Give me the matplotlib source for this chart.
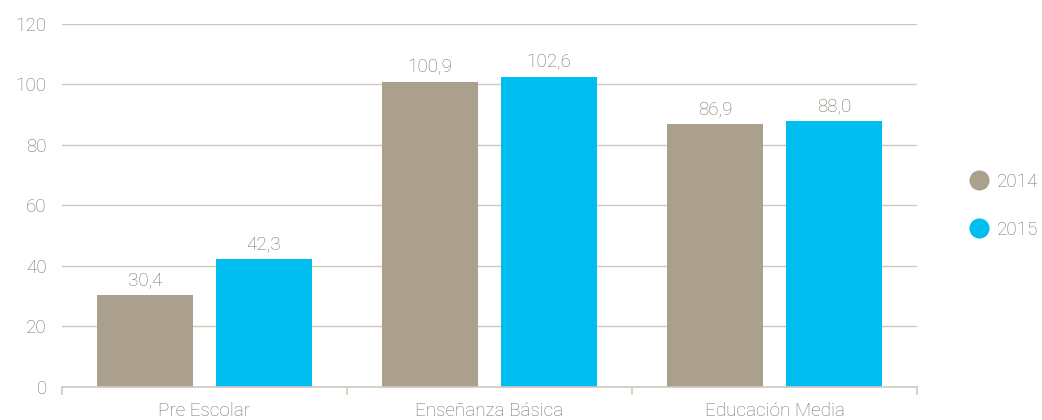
import matplotlib
matplotlib.use('Agg')
import matplotlib.pyplot as plt
from matplotlib.lines import Line2D
import numpy as np

# data
categories = ["Pre Escolar", "Enseñanza Básica", "Educación Media"]
years = ["2014", "2015"]
values_2014 = [30.4, 100.9, 86.9]
values_2015 = [42.3, 102.6, 88.0]
y_ticks = [0, 20, 40, 60, 80, 100, 120]

GREY = "#ab9f8e"
CYAN = "#00bff0"
TEXT = "#7b6f61"
GRID = "#cfc8bd"
FS = 13.6

plt.rcParams['font.family'] = ['Roboto', 'DejaVu Sans']
plt.rcParams['font.weight'] = 'light'

fig = plt.figure(figsize=(10.42, 4.2), dpi=100)
ax = fig.add_axes([0.0595, 0.0786, 0.8205, 0.8643])

x = np.arange(len(categories))
offset = 0.209
width = 0.337
b1 = ax.bar(x - offset, values_2014, width, color=GREY, zorder=3)
b2 = ax.bar(x + offset, values_2015, width, color=CYAN, zorder=3)

for bars, vals in ((b1, values_2014), (b2, values_2015)):
    for rect, v in zip(bars, vals):
        ax.annotate(f"{v:.1f}".replace(".", ","),
                    (rect.get_x() + rect.get_width() / 2, rect.get_height()),
                    xytext=(0, 7), textcoords="offset points",
                    ha="center", va="baseline", fontsize=FS, color=TEXT)

ax.set_xlim(-0.5, len(categories) - 0.5)
ax.set_ylim(0, 120)
ax.set_yticks(y_ticks)
ax.set_yticklabels([str(t) for t in y_ticks], fontsize=FS, color=TEXT)
ax.tick_params(axis='y', length=0, pad=11)

# category labels without marks, boundary ticks without labels
ax.set_xticks(x)
ax.set_xticklabels(categories, fontsize=FS, color=TEXT)
ax.tick_params(axis='x', which='major', length=0, pad=11)
ax.set_xticks(np.arange(len(categories) + 1) - 0.5, minor=True)
ax.tick_params(axis='x', which='minor', length=6, width=1.2, color=GRID)

for t in y_ticks[1:]:
    ax.axhline(t, color=GRID, linewidth=1, zorder=1)

for side in ('top', 'right', 'left'):
    ax.spines[side].set_visible(False)
ax.spines['bottom'].set_color(GRID)
ax.spines['bottom'].set_linewidth(1.2)
ax.spines['bottom'].set_zorder(4)

handles = [Line2D([], [], marker='o', linestyle='none', markersize=13.5,
                  markerfacecolor=c, markeredgecolor=c) for c in (GREY, CYAN)]
leg = fig.legend(handles, years, loc='center left', bbox_to_anchor=(0.912, 0.51),
                 frameon=False, fontsize=FS, handletextpad=0.35, labelspacing=1.6,
                 handlelength=1.2)
for txt in leg.get_texts():
    txt.set_color(TEXT)

fig.savefig("out.png", dpi=100)
